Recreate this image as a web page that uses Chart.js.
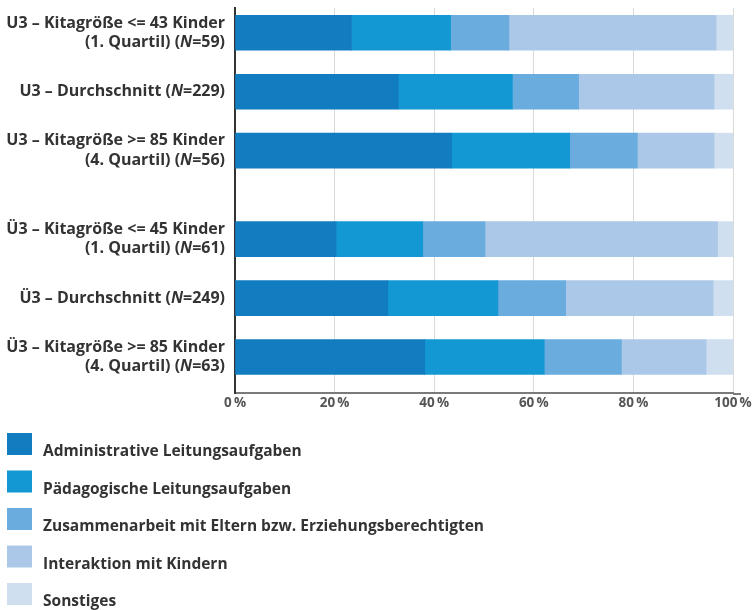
<!DOCTYPE html>
<html lang="de">
<head>
<meta charset="utf-8">
<title>Leitungszeit nach Kitagröße</title>
<script src="https://cdn.jsdelivr.net/npm/chart.js@4/dist/chart.umd.min.js"></script>
<style>
  html, body { margin: 0; padding: 0; background: #fff; }
  #wrap { width: 755px; height: 610px; }
</style>
</head>
<body>
<div id="wrap"><canvas id="chart" width="755" height="610"></canvas></div>
<script>
// Rows (U3 group, gap, Ü3 group) and where they sit on the index axis
const rowLabels = [
  ['U3 – Kitagröße <= 43 Kinder', '(1. Quartil) (N=59)'],
  ['U3 – Durchschnitt (N=229)'],
  ['U3 – Kitagröße >= 85 Kinder', '(4. Quartil) (N=56)'],
  ['Ü3 – Kitagröße <= 45 Kinder', '(1. Quartil) (N=61)'],
  ['Ü3 – Durchschnitt (N=249)'],
  ['Ü3 – Kitagröße >= 85 Kinder', '(4. Quartil) (N=63)']
];
const rowPositions = [0, 1, 2, 3.5, 4.5, 5.5];

// Shares of working time, in percent
const categories = [
  'Administrative Leitungsaufgaben',
  'Pädagogische Leitungsaufgaben',
  'Zusammenarbeit mit Eltern bzw. Erziehungsberechtigten',
  'Interaktion mit Kindern',
  'Sonstiges'
];
const administrative = [23.4, 32.8, 43.5, 20.3, 30.7, 38.1];
const paedagogisch   = [19.9, 22.9, 23.7, 17.4, 22.1, 24.0];
const eltern         = [11.7, 13.3, 13.6, 12.5, 13.6, 15.5];
const interaktion    = [41.6, 27.2, 15.4, 46.7, 29.6, 17.0];
const sonstiges      = [3.4, 3.8, 3.8, 3.1, 4.0, 5.4];

const xTicks = [0, 20, 40, 60, 80, 100];
const colors = ['#127cc0', '#1398d4', '#6aacde', '#acc8e8', '#cfdff0'];

const FONT = '"Open Sans", "DejaVu Sans", sans-serif';
const TEXT = '#333333';

const series = [administrative, paedagogisch, eltern, interaktion, sonstiges];

// draws one line right-aligned, with the sample size "N" set in italics
function drawRichLine(ctx, line, rightX, y) {
  const parts = line.split(/(N)(?==)/).map(t => ({ t, italic: t === 'N' }));
  const fontOf = p => `${p.italic ? 'italic ' : ''}bold 16px ${FONT}`;
  let width = 0;
  parts.forEach(p => { ctx.font = fontOf(p); width += ctx.measureText(p.t).width; });
  let x = rightX - width;
  parts.forEach(p => {
    ctx.font = fontOf(p);
    ctx.fillText(p.t, x, y);
    x += ctx.measureText(p.t).width;
  });
}

// row labels next to the bars
const rowLabelPlugin = {
  id: 'rowLabels',
  afterDraw(chart) {
    const ctx = chart.ctx;
    const y = chart.scales.y;
    ctx.save();
    ctx.fillStyle = TEXT;
    ctx.textAlign = 'left';
    ctx.textBaseline = 'middle';
    rowPositions.forEach((pos, i) => {
      const lines = rowLabels[i];
      const center = y.getPixelForValue(pos);
      const lh = 19.5;
      lines.forEach((line, j) => {
        const ly = center + (j - (lines.length - 1) / 2) * lh;
        drawRichLine(ctx, line, y.right - 10, ly);
      });
    });
    ctx.restore();
  }
};

// bottom axis runs a few pixels past 100 %
const axisOverhang = {
  id: 'axisOverhang',
  afterDraw(chart) {
    const { ctx, chartArea } = chart;
    ctx.save();
    ctx.strokeStyle = '#7a7a7a';
    ctx.lineWidth = 2;
    ctx.beginPath();
    ctx.moveTo(chartArea.right, chartArea.bottom + 1);
    ctx.lineTo(chartArea.right + 8, chartArea.bottom + 1);
    ctx.stroke();
    ctx.restore();
  }
};

// legend drawn underneath the plot: square swatch, label slightly below it
const stackedLegend = {
  id: 'stackedLegend',
  afterDraw(chart) {
    const ctx = chart.ctx;
    ctx.save();
    ctx.font = `bold 15.5px ${FONT}`;
    ctx.textAlign = 'left';
    ctx.textBaseline = 'alphabetic';
    chart.data.datasets.forEach((ds, i) => {
      const top = 433 + i * 37.5;
      ctx.fillStyle = ds.backgroundColor;
      ctx.fillRect(7, top, 25, 22);
      ctx.fillStyle = TEXT;
      ctx.fillText(ds.label, 43, top + 23);
    });
    ctx.restore();
  }
};

new Chart(document.getElementById('chart'), {
  type: 'bar',
  data: {
    labels: rowPositions,
    datasets: series.map((values, i) => ({
      label: categories[i],
      data: values,
      backgroundColor: colors[i],
      borderWidth: 0,
      barThickness: 35
    }))
  },
  options: {
    indexAxis: 'y',
    responsive: false,
    animation: false,
    layout: { padding: { top: 8, right: 22, left: 0, bottom: 0 } },
    plugins: {
      legend: { display: false },
      tooltip: { enabled: false }
    },
    scales: {
      x: {
        stacked: true,
        min: 0,
        max: 100,
        afterBuildTicks: scale => { scale.ticks = xTicks.map(v => ({ value: v })); },
        afterFit: scale => { scale.height = 217; },
        grid: { color: '#dadada', lineWidth: 1, drawTicks: false },
        border: { color: '#7a7a7a', width: 2 },
        ticks: {
          padding: 2,
          color: '#555555',
          font: { family: FONT, size: 13.5, weight: 'bold' },
          callback: v => v + '\u2009%'
        }
      },
      y: {
        type: 'linear',
        stacked: true,
        reverse: true,
        offset: false,
        min: -0.42,
        max: 6.11,
        afterBuildTicks: scale => { scale.ticks = rowPositions.map(v => ({ value: v })); },
        afterFit: scale => {
          scale.width = 235;
          scale.paddingTop = 0;
          scale.paddingBottom = 0;
        },
        grid: { display: false, drawTicks: false, offset: false },
        border: { color: '#333333', width: 2 },
        ticks: { display: false }
      }
    }
  },
  plugins: [rowLabelPlugin, axisOverhang, stackedLegend]
});
</script>
</body>
</html>
